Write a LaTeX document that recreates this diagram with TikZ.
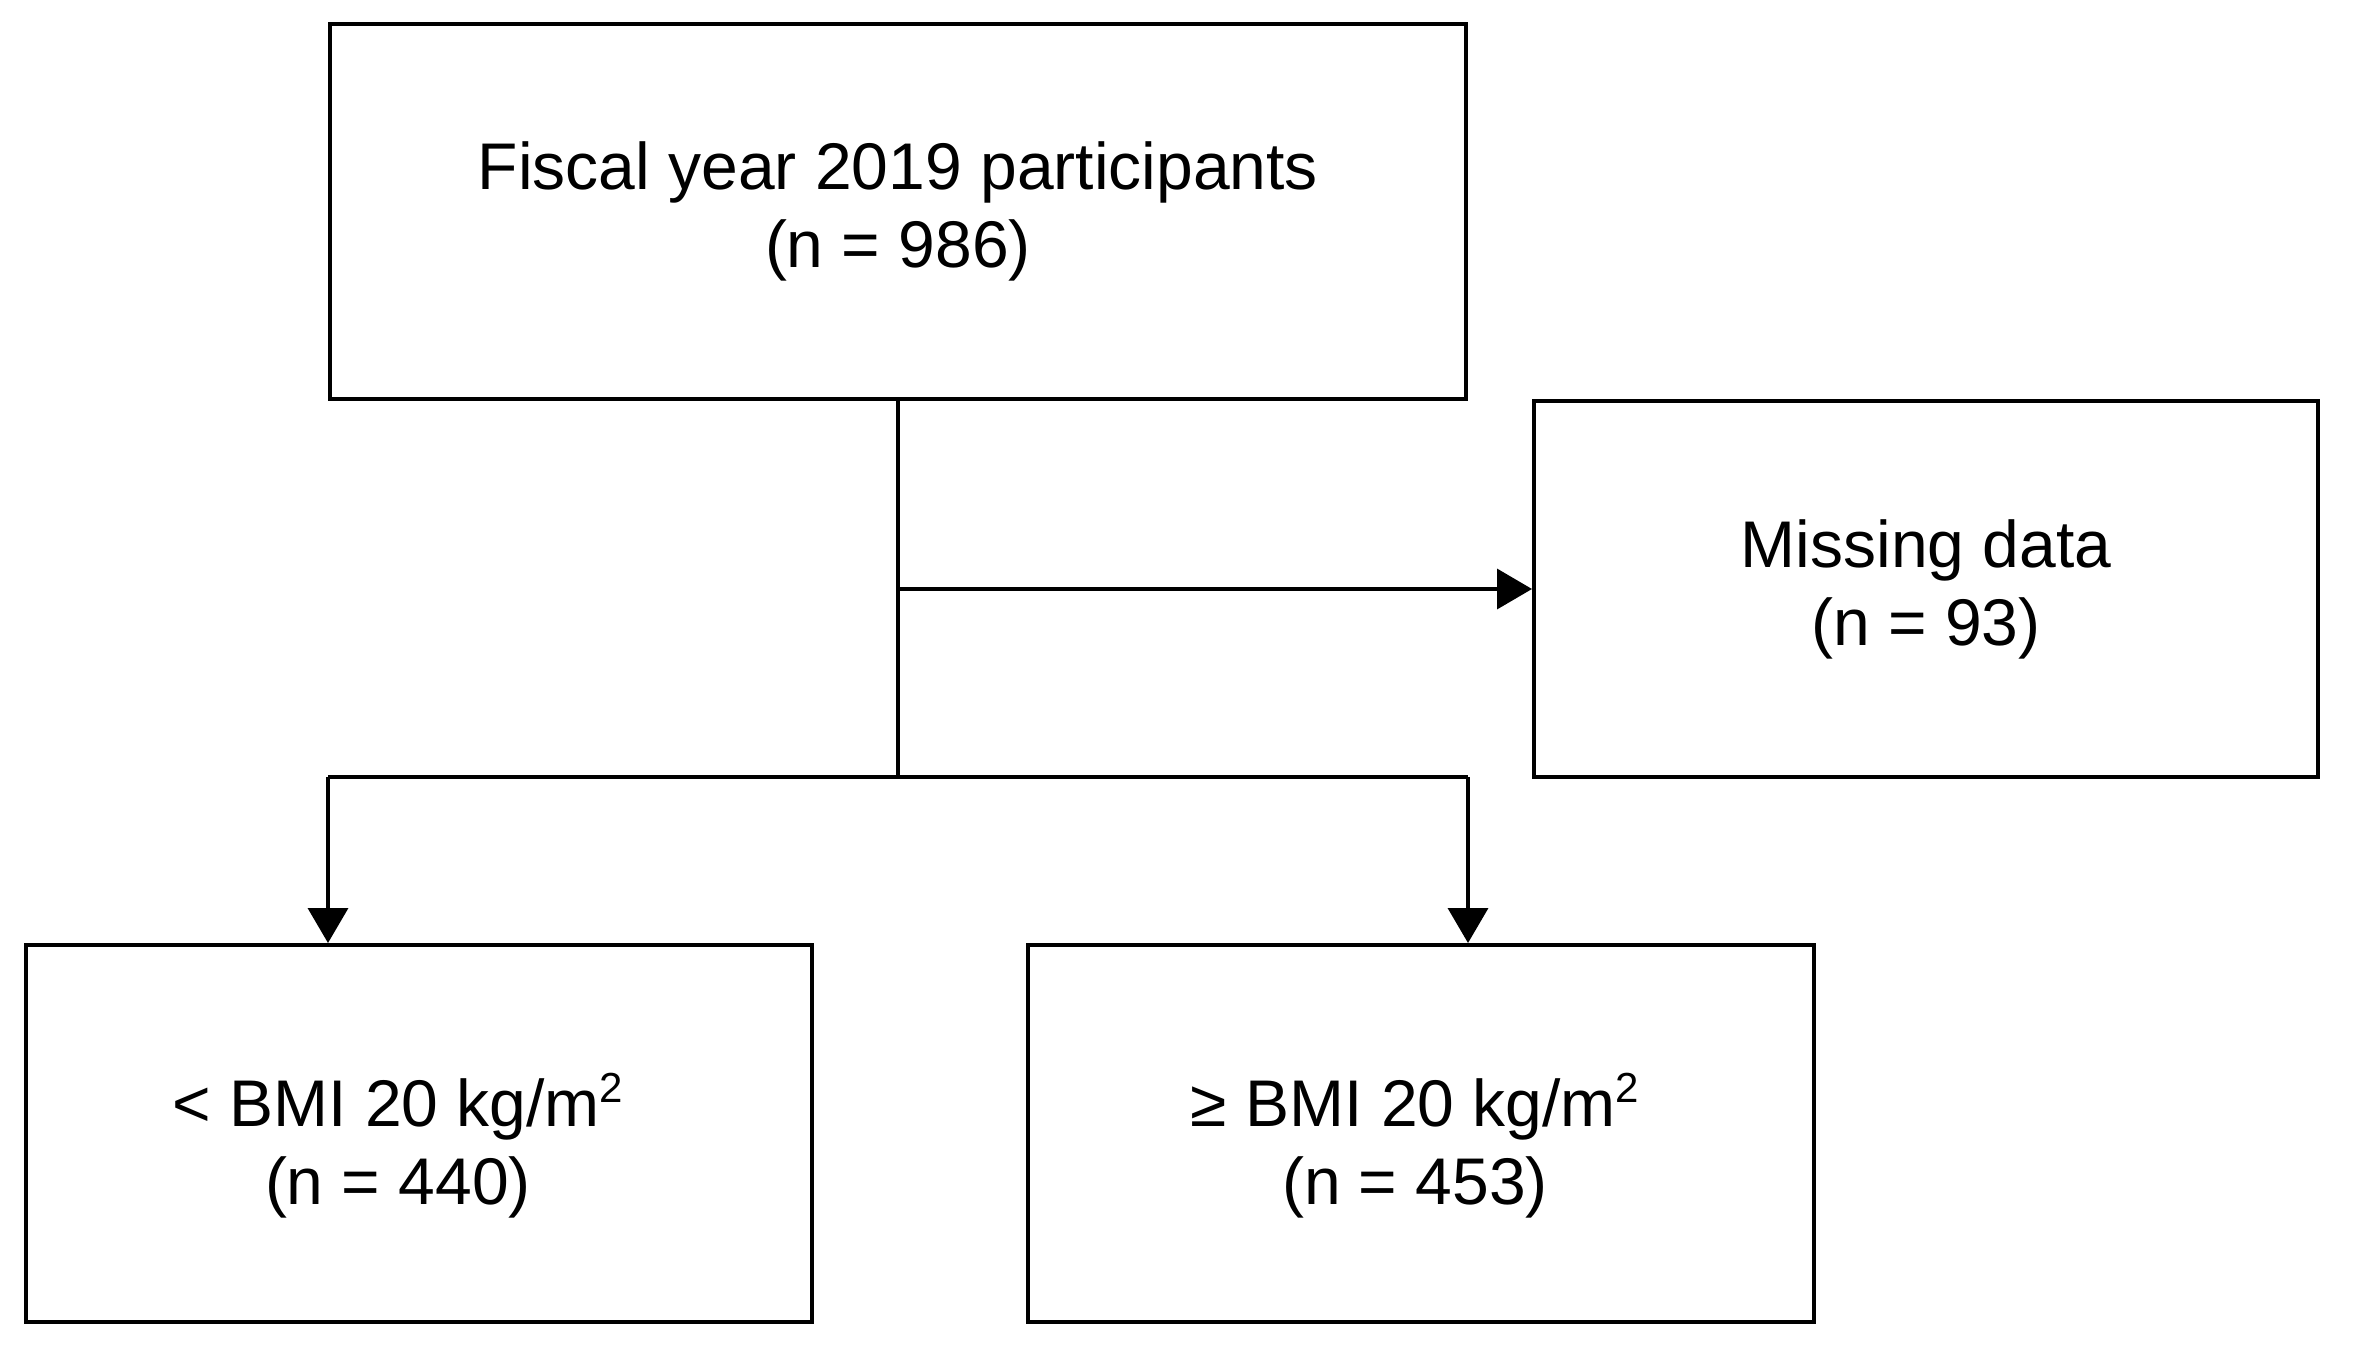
\documentclass[tikz,border=0pt]{standalone}
\usepackage{fontspec}
\setmainfont{Liberation Sans}
\usetikzlibrary{arrows.meta}
\newcommand{\sqsup}{\smash{\raisebox{0.36em}{\fontsize{21}{21}\selectfont 2}}}
\begin{document}
\begin{tikzpicture}[x=0.5pt,y=-0.5pt,
  box/.style={draw=black,line width=2pt,align=center,inner sep=0pt,
    font=\fontsize{33}{39}\selectfont},
  conn/.style={draw=black,line width=1.8pt},
  arr/.style={conn,-{Triangle[length=17.5pt,width=20pt]}}]
\useasboundingbox (0,0) rectangle (2353,1354);
\node[box,minimum width=568pt,minimum height=187.5pt] (top) at (898,211.5)
  {Fiscal year 2019 participants\\(n = 986)};
\node[box,minimum width=392pt,minimum height=188pt] (miss) at (1926,589)
  {Missing data\\(n = 93)};
\node[box,minimum width=393pt,minimum height=188.5pt] (bl) at (419,1133.5) {};
\node[box,minimum width=393pt,minimum height=188.5pt] (br) at (1420.5,1133.5) {};
\node[align=center,font=\fontsize{33}{39}\selectfont] (blt) at (398,1148)
  {< BMI 20 kg/m\sqsup\\(n = 440)};
\node[align=center,font=\fontsize{33}{39}\selectfont] (brt) at (1415,1148)
  {≥ BMI 20 kg/m\sqsup\\(n = 453)};
\coordinate (j) at (898,777);
\coordinate (jl) at (top.south west |- j);
\coordinate (jr) at (top.south east |- j);
\draw[conn] (top.south) -- (j);
\draw[arr] (top.south |- miss.west) -- (miss.west);
\draw[conn] (jl) -- (jr);
\draw[arr] (jl) -- (jl |- bl.north);
\draw[arr] (jr) -- (jr |- br.north);
\end{tikzpicture}
\end{document}
